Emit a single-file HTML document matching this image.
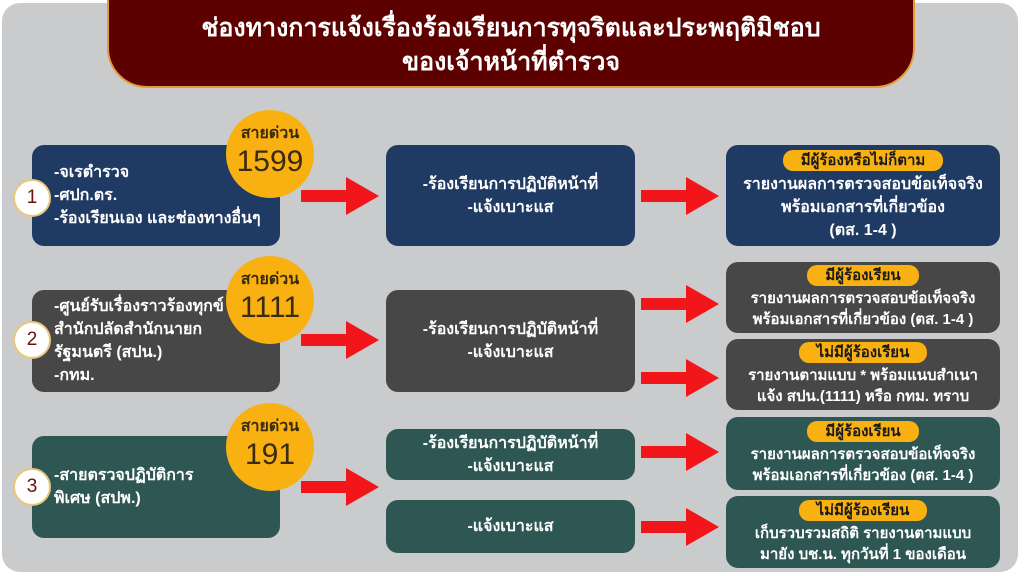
<!DOCTYPE html><html><head><meta charset="utf-8"><style>
*{margin:0;padding:0;box-sizing:border-box}
body{width:1024px;height:576px;background:#fff;position:relative;overflow:hidden;font-family:"Liberation Sans","Noto Sans CJK SC",sans-serif;}
.a{position:absolute}
.panel{left:2px;top:3px;width:1016px;height:569px;background:#c9cbcd;border-radius:18px}
.title{left:107px;top:-10px;width:808px;height:98px;background:#5c0000;border:2px solid #e39a3a;border-radius:0 0 40px 40px;color:#fff;font-weight:bold;font-size:25px;text-align:center;line-height:34px;padding-top:19px}
.box{border-radius:12px;color:#fff;font-size:16px;font-weight:bold;display:flex;flex-direction:column;justify-content:center}
.n{background:#1f3a63}.g{background:#474747}.t{background:#2e5753}
.l{padding-left:22px;line-height:23px}
.c{text-align:center;line-height:23px}
.hot{width:88px;height:88px;border-radius:50%;background:#f9b111;color:#3a2a10;text-align:center}
.hot b{display:block;font-size:16px;margin-top:11px;font-weight:bold}
.hot span{display:block;font-size:30px;line-height:32px}
.bd{width:38px;height:38px;border-radius:50%;background:#fff;border:2px solid #e8c77a;color:#6b1010;font-size:19px;text-align:center;line-height:34px}
.pill{display:inline-block;background:#f9b111;color:#1a1a1a;border-radius:10px;padding:0 18px;line-height:21px;font-size:15px;margin:0 auto 2px}
</style></head><body>
<div class="a panel"></div>
<div class="a title">ช่องทางการแจ้งเรื่องร้องเรียนการทุจริตและประพฤติมิชอบ<br>ของเจ้าหน้าที่ตำรวจ</div>

<div class="a box n l" style="left:32px;top:145px;width:248px;height:101px">-จเรตำรวจ<br>-ศปก.ตร.<br>-ร้องเรียนเอง และช่องทางอื่นๆ</div>
<div class="a box n c" style="left:386px;top:145px;width:249px;height:101px">-ร้องเรียนการปฏิบัติหน้าที่<br>-แจ้งเบาะแส</div>
<div class="a box n c" style="left:726px;top:145px;width:274px;height:101px"><div><span class="pill">มีผู้ร้องหรือไม่ก็ตาม</span></div>รายงานผลการตรวจสอบข้อเท็จจริง<br>พร้อมเอกสารที่เกี่ยวข้อง<br>(ตส. 1-4 )</div>

<div class="a box g l" style="left:32px;top:290px;width:248px;height:102px">-ศูนย์รับเรื่องราวร้องทุกข์<br>สำนักปลัดสำนักนายก<br>รัฐมนตรี (สปน.)<br>-กทม.</div>
<div class="a box g c" style="left:386px;top:290px;width:249px;height:102px">-ร้องเรียนการปฏิบัติหน้าที่<br>-แจ้งเบาะแส</div>
<div class="a box g c" style="left:726px;top:262px;width:274px;height:71px;font-size:15px;line-height:21px"><div><span class="pill">มีผู้ร้องเรียน</span></div>รายงานผลการตรวจสอบข้อเท็จจริง<br>พร้อมเอกสารที่เกี่ยวข้อง (ตส. 1-4 )</div>
<div class="a box g c" style="left:726px;top:339px;width:274px;height:71px;font-size:15px;line-height:21px"><div><span class="pill">ไม่มีผู้ร้องเรียน</span></div>รายงานตามแบบ * พร้อมแนบสำเนา<br>แจ้ง สปน.(1111) หรือ กทม. ทราบ</div>

<div class="a box t l" style="left:32px;top:436px;width:248px;height:102px">-สายตรวจปฏิบัติการ<br>พิเศษ (สปพ.)</div>
<div class="a box t c" style="left:386px;top:429px;width:249px;height:51px">-ร้องเรียนการปฏิบัติหน้าที่<br>-แจ้งเบาะแส</div>
<div class="a box t c" style="left:386px;top:500px;width:249px;height:53px">-แจ้งเบาะแส</div>
<div class="a box t c" style="left:726px;top:417px;width:274px;height:73px;font-size:15px;line-height:21px"><div><span class="pill">มีผู้ร้องเรียน</span></div>รายงานผลการตรวจสอบข้อเท็จจริง<br>พร้อมเอกสารที่เกี่ยวข้อง (ตส. 1-4 )</div>
<div class="a box t c" style="left:726px;top:496px;width:274px;height:72px;font-size:15px;line-height:21px"><div><span class="pill">ไม่มีผู้ร้องเรียน</span></div>เก็บรวบรวมสถิติ รายงานตามแบบ<br>มายัง บช.น. ทุกวันที่ 1 ของเดือน</div>

<div class="a hot" style="left:226px;top:110px"><b>สายด่วน</b><span>1599</span></div>
<div class="a hot" style="left:226px;top:256px"><b>สายด่วน</b><span>1111</span></div>
<div class="a hot" style="left:226px;top:403px"><b>สายด่วน</b><span>191</span></div>
<div class="a bd" style="left:13px;top:179px">1</div>
<div class="a bd" style="left:13px;top:321px">2</div>
<div class="a bd" style="left:13px;top:468px">3</div>

<svg class="a" style="left:0;top:0" width="1024" height="576">
<defs><g id="ar"><polygon points="0,-6 45,-6 45,-19 78,0 45,19 45,6 0,6" fill="#f2161a"/></g></defs>
<use href="#ar" x="301" y="196"/>
<use href="#ar" x="301" y="340"/>
<use href="#ar" x="301" y="487"/>
<use href="#ar" x="641" y="196"/>
<use href="#ar" x="641" y="304"/>
<use href="#ar" x="641" y="378"/>
<use href="#ar" x="641" y="452"/>
<use href="#ar" x="641" y="527"/>
</svg>
</body></html>
